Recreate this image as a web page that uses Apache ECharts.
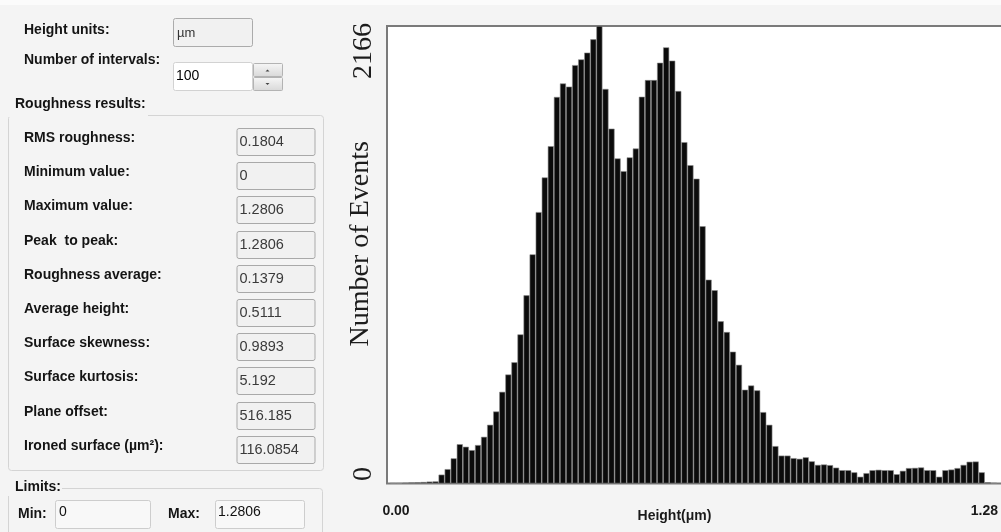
<!DOCTYPE html>
<html><head><meta charset="utf-8">
<script src="https://cdn.jsdelivr.net/npm/echarts@6/dist/echarts.min.js"></script>
<style>html,body{margin:0;padding:0;background:#f4f4f4}#c{width:1001px;height:532px}</style>
</head><body><div id="c"></div>
<script>
// ---- data ----
const binCount = 100;
const heightMax = 1.2806;
const counts = [
  2, 2, 4, 5, 6, 7, 9, 10, 42, 68,
  119, 186, 174, 158, 182, 221, 278, 341, 434, 516,
  574, 706, 891, 1085, 1285, 1449, 1597, 1830, 1894, 1879,
  1981, 2008, 2040, 2103, 2166, 1868, 1680, 1539, 1479, 1544,
  1586, 1831, 1910, 1910, 1992, 2065, 2002, 1858, 1616, 1507,
  1443, 1218, 965, 915, 768, 717, 624, 562, 444, 464,
  441, 338, 278, 177, 132, 132, 120, 117, 124, 105,
  88, 90, 87, 75, 63, 63, 53, 32, 49, 63,
  65, 63, 63, 44, 60, 73, 74, 76, 63, 63,
  32, 63, 66, 73, 88, 103, 104, 53, 6, 3
];
const yMax = 2166;
const yTickLabels = ['0', '2166'];
const xTickLabels = ['0.00', '1.28'];
const xAxisTitle = 'Height(μm)';
const yAxisTitle = 'Number of Events';
const resultLabels = ['RMS roughness:', 'Minimum value:', 'Maximum value:', 'Peak  to peak:',
  'Roughness average:', 'Average height:', 'Surface skewness:', 'Surface kurtosis:',
  'Plane offset:', 'Ironed surface (µm²):'];
const resultValues = ['0.1804', '0', '1.2806', '1.2806', '0.1379', '0.5111', '0.9893',
  '5.192', '516.185', '116.0854'];
const heightUnits = 'µm';
const intervals = '100';
const limitMin = '0';
const limitMax = '1.2806';

// bin centres as categories
const categories = counts.map((_, i) => ((i + 0.5) * heightMax / binCount).toFixed(4));

// ---- panel graphics ----
const BG = '#f4f4f4';
const SANS = '"Liberation Sans", Arial, sans-serif';
const FONT_LABEL = 'bold 14px ' + SANS;
const FONT_VALUE = '14.5px ' + SANS;
const g = [];
function txt(x, y, s, font, fill) {
  g.push({ type: 'text', silent: true, z: 5,
    style: { x: x, y: y, text: s, font: font || FONT_LABEL, fill: fill || '#141414', verticalAlign: 'middle', align: 'left' } });
}
function box(x, y, w, h, fill, stroke, r) {
  g.push({ type: 'rect', silent: true, z: 3, shape: { x: x, y: y, width: w, height: h, r: r == null ? 2 : r },
    style: { fill: fill, stroke: stroke, lineWidth: 1 } });
}
g.push({ type: 'rect', silent: true, z: 0, shape: { x: 0, y: 0, width: 1001, height: 5 }, style: { fill: '#fbfbfb' } });
// plot frame
g.push({ type: 'rect', silent: true, z: 0, shape: { x: 387, y: 26, width: 616, height: 457.5 },
  style: { fill: '#ffffff', stroke: '#7a7a7a', lineWidth: 2 } });

txt(24, 30.5, 'Height units:');
box(173.5, 18.5, 79, 28, '#f1f1f1', '#ababab');
txt(177, 33, heightUnits, '13px ' + SANS, '#333');
txt(24, 60.5, 'Number of intervals:');
box(173.5, 62.5, 79, 28, '#ffffff', '#d2d2d2');
txt(176, 76, intervals, '14px ' + SANS, '#000');
const grad = { type: 'linear', x: 0, y: 0, x2: 0, y2: 1,
  colorStops: [{ offset: 0, color: '#f7f7f7' }, { offset: 1, color: '#d8d8d8' }] };
box(253.5, 63.5, 29, 13, grad, '#b3b3b3', 1);
box(253.5, 77.5, 29, 13, grad, '#b3b3b3', 1);
g.push({ type: 'polygon', silent: true, z: 6, shape: { points: [[265.5, 71.5], [269.5, 71.5], [267.5, 69.5]] }, style: { fill: '#444' } });
g.push({ type: 'polygon', silent: true, z: 6, shape: { points: [[265.5, 83], [269.5, 83], [267.5, 85]] }, style: { fill: '#444' } });

// Roughness results group
box(8.5, 115.5, 315, 355, 'rgba(0,0,0,0)', '#d4d4d4', 3);
g.push({ type: 'rect', silent: true, z: 4, shape: { x: 6, y: 97, width: 142, height: 20 }, style: { fill: BG } });
txt(15, 104.5, 'Roughness results:');
resultLabels.forEach((lab, i) => {
  const top = Math.round(128 + 34.2 * i) + 0.5;
  txt(24, top + 9.5, lab);
  box(237, top, 78, 27, '#f1f1f1', '#a9a9a9');
  txt(239.5, top + 13, resultValues[i], FONT_VALUE, '#3a3a3a');
});

// Limits group
box(8.5, 488.5, 314, 60, 'rgba(0,0,0,0)', '#d4d4d4', 3);
g.push({ type: 'rect', silent: true, z: 4, shape: { x: 6, y: 478, width: 56, height: 18 }, style: { fill: BG } });
txt(15, 487.5, 'Limits:');
txt(18, 514.5, 'Min:');
box(55.5, 500.5, 95, 28, '#f8f8f8', '#cdcdcd');
txt(59, 512.5, limitMin, '14px ' + SANS, '#111');
txt(168, 514.5, 'Max:');
box(215.5, 500.5, 89, 28, '#f8f8f8', '#cdcdcd');
txt(218, 512.5, limitMax, '14px ' + SANS, '#111');

// ---- chart ----
const chart = echarts.init(document.getElementById('c'), null, { renderer: 'canvas' });
const SERIF = '"Liberation Serif", "Times New Roman", serif';
chart.setOption({
  animation: false,
  backgroundColor: BG,
  graphic: { elements: g },
  grid: { left: 390, right: -2, top: 26, bottom: 48.5, show: false },
  xAxis: {
    type: 'category',
    data: categories,
    boundaryGap: true,
    axisLine: { show: false },
    axisTick: { show: false },
    splitLine: { show: false },
    axisLabel: {
      interval: 0,
      margin: 21,
      formatter: (v, i) => i === 0 ? '{a|' + xTickLabels[0] + '}' : (i === binCount - 1 ? '{b|' + xTickLabels[1] + '}' : ''),
      rich: {
        a: { fontFamily: SANS, fontWeight: 'bold', fontSize: 14, color: '#1a1a1a', padding: [0, 0, 0, 6] },
        b: { fontFamily: SANS, fontWeight: 'bold', fontSize: 14, color: '#1a1a1a', padding: [0, 19, 0, 0] }
      }
    },
    name: xAxisTitle,
    nameLocation: 'middle',
    nameGap: 26,
    nameMoveOverlap: false,
    nameTextStyle: { fontFamily: SANS, fontWeight: 'bold', fontSize: 14, color: '#1a1a1a', padding: [0, 38, 0, 0] }
  },
  yAxis: {
    type: 'value',
    min: 0,
    max: yMax,
    interval: yMax,
    axisLine: { show: false },
    axisTick: { show: false },
    splitLine: { show: false },
    axisLabel: {
      rotate: 90,
      margin: 12,
      formatter: (v, i) => i === 0 ? '{lo|' + yTickLabels[0] + '}' : '{hi|' + yTickLabels[1] + '}',
      rich: {
        lo: { fontFamily: SERIF, fontSize: 28, color: '#1c1c1c', padding: [0, 0, 0, 19] },
        hi: { fontFamily: SERIF, fontSize: 28, color: '#1c1c1c', padding: [0, 50, 0, 0] }
      }
    },
    name: yAxisTitle,
    nameLocation: 'middle',
    nameRotate: 90,
    nameGap: 15,
    nameMoveOverlap: false,
    nameTextStyle: { fontFamily: SERIF, fontSize: 28, color: '#1c1c1c', padding: [0, 0, 0, 22] }
  },
  series: [{
    type: 'bar',
    data: counts,
    barCategoryGap: '0%',
    itemStyle: { color: '#0b0b0b', borderColor: '#8c8c8c', borderWidth: 0.6 },
    emphasis: { disabled: true }
  }]
});
</script>
</body></html>
